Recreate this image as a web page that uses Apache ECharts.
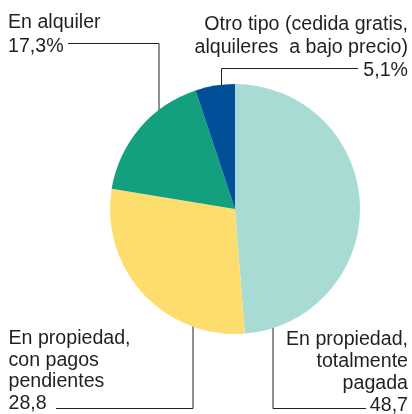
<!DOCTYPE html>
<html>
<head>
<meta charset="utf-8">
<script src="https://cdn.jsdelivr.net/npm/echarts@6/dist/echarts.min.js"></script>
<style>
html,body{margin:0;padding:0;background:#fff;}
#chart{width:412px;height:414px;}
</style>
</head>
<body>
<div id="chart"></div>
<script>
// Data
var categories = [
  'En propiedad,\ntotalmente\npagada',
  'En propiedad,\ncon pagos\npendientes',
  'En alquiler',
  'Otro tipo (cedida gratis,\nalquileres  a bajo precio)'
];
var values = [48.7, 28.8, 17.3, 5.1];
var valueSuffix = ['', '', '%', '%'];
var colors = ['#a7dbd3', '#fedd6f', '#13a07f', '#004f98'];

// Label layout (styling/positioning only)
var labelLayouts = [
  { x: 408, y: 328.3, align: 'right', lineHeight: 22.2, pts: [[273, 313], [273, 408.5], [366, 408.5]] },
  { x: 8.5, y: 328.3, align: 'left',  lineHeight: 21.4, pts: [[193, 313], [193, 408.5], [56, 408.5]] },
  { x: 8,   y: 10.8,  align: 'left',  lineHeight: 23.6, pts: [[159, 123], [159, 43.5], [68, 43.5]] },
  { x: 408, y: 13.1,  align: 'right', lineHeight: 22.8, pts: [[221.5, 94], [221.5, 68.5], [358, 68.5]] }
];

function fmt(v, s) { return v.toFixed(1).replace('.', ',') + s; }

var chart = echarts.init(document.getElementById('chart'), null, { renderer: 'canvas' });
var seriesData = values.map(function (v, i) {
  return {
    name: categories[i],
    value: v,
    itemStyle: { color: colors[i] },
    label: { align: labelLayouts[i].align, lineHeight: labelLayouts[i].lineHeight }
  };
});

chart.setOption({
  animation: false,
  series: [{
    type: 'pie',
    center: [235, 209],
    radius: [0, 125],
    startAngle: 90,
    clockwise: true,
    avoidLabelOverlap: false,
    data: seriesData,
    itemStyle: { borderWidth: 0 },
    emphasis: { disabled: true },
    label: {
      show: true,
      position: 'outside',
      fontFamily: 'Liberation Sans, Arial, sans-serif',
      fontSize: 19.6,
      color: '#231f20',
      formatter: function (p) { return p.name + '\n' + fmt(p.value, valueSuffix[p.dataIndex]); }
    },
    labelLine: {
      show: true,
      length: 10,
      length2: 10,
      smooth: false,
      lineStyle: { color: '#231f20', width: 1 }
    },
    labelLayout: function (params) {
      var L = labelLayouts[params.dataIndex];
      return {
        x: L.x,
        y: L.y,
        align: L.align,
        verticalAlign: 'top',
        labelLinePoints: L.pts
      };
    }
  }]
});
</script>
</body>
</html>
